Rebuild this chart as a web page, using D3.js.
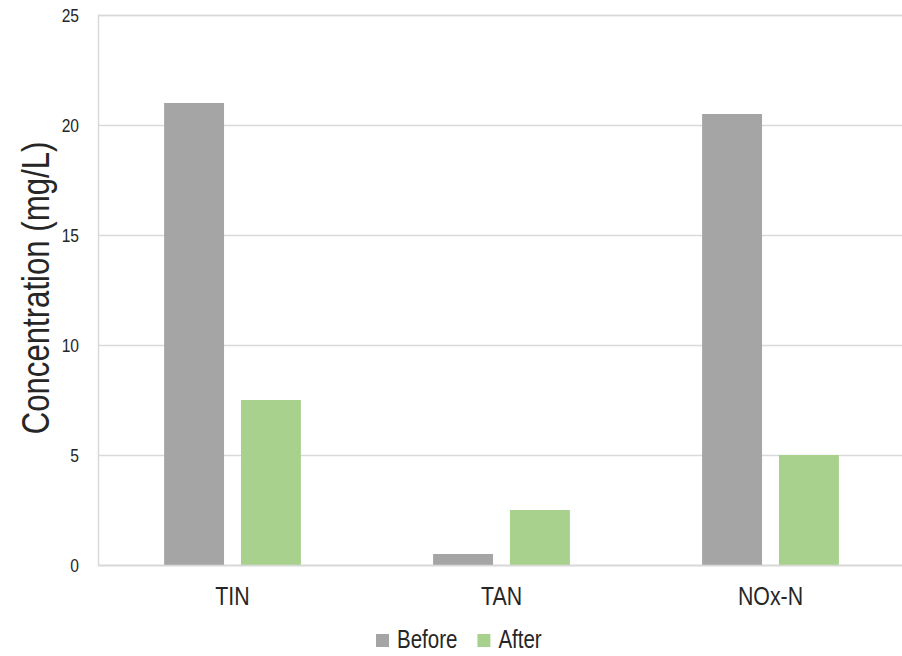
<!DOCTYPE html>
<html>
<head>
<meta charset="utf-8">
<script src="https://cdn.jsdelivr.net/npm/d3@7"></script>
<style>
  body { margin: 0; background: #fff; }
  text { font-family: "Liberation Sans Narrow", "Arial Narrow", "Liberation Sans", Arial, sans-serif; fill: #262626; }
</style>
</head>
<body>
<div class="chart"></div>
<script>
// Data
const categories = ['TIN', 'TAN', 'NOx-N'];
const seriesNames = ['Before', 'After'];
const beforeValues = [21, 0.5, 20.5];
const afterValues = [7.5, 2.5, 5];
const yTicks = [0, 5, 10, 15, 20, 25];
const colors = { Before: '#a5a5a5', After: '#a9d18e' };

const rows = categories.map((c, i) => ({ cat: c, Before: beforeValues[i], After: afterValues[i] }));

// no narrow font installed -> squeeze glyphs a bit
function narrow(sel) {
    sel.each(function () {
        const w = this.getComputedTextLength();
        d3.select(this).attr('textLength', w * 0.82).attr('lengthAdjust', 'spacingAndGlyphs');
    });
}

const svg_width = 902;
const svg_height = 656;
const margin = { top: 15, right: -3, bottom: 91, left: 98 };

const svg = d3.select('.chart').append('svg')
    .attr('width', svg_width).attr('height', svg_height);

const x0 = d3.scaleBand().domain(categories)
    .range([margin.left, svg_width - margin.right]);
const x1 = d3.scaleBand().domain(seriesNames)
    .range([0, x0.bandwidth()])
    .paddingInner(0.22).paddingOuter(0.86);
const y = d3.scaleLinear().domain([0, 25])
    .range([svg_height - margin.bottom, margin.top]);

// grid lines
const yAxis = d3.axisLeft(y).tickValues(yTicks)
    .tickSize(-(svg_width - margin.left - margin.right)).tickPadding(19);
const yAxisDraw = svg.append('g')
    .attr('transform', `translate(${margin.left},0)`)
    .call(yAxis);
yAxisDraw.select('.domain').attr('stroke', '#d9d9d9').attr('stroke-width', 1.5);
yAxisDraw.selectAll('.tick line').attr('stroke', '#d9d9d9').attr('stroke-width', 1.5);
yAxisDraw.selectAll('.tick text').style('font-size', '19px').attr('fill', '#262626')
    .call(narrow);

// bars
const groups = svg.append('g').selectAll('g').data(rows).join('g')
    .attr('transform', d => `translate(${x0(d.cat)},0)`);
groups.selectAll('rect')
    .data(d => seriesNames.map(s => ({ key: s, value: d[s] })))
    .join('rect')
    .attr('x', d => x1(d.key))
    .attr('y', d => y(d.value))
    .attr('width', x1.bandwidth())
    .attr('height', d => y(0) - y(d.value))
    .attr('fill', d => colors[d.key]);

// x axis
const xAxis = d3.axisBottom(x0).tickSize(0).tickPadding(22);
const xAxisDraw = svg.append('g')
    .attr('transform', `translate(0,${y(0)})`)
    .call(xAxis);
xAxisDraw.select('.domain').attr('stroke', '#d9d9d9').attr('stroke-width', 1.5);
xAxisDraw.selectAll('.tick text').style('font-size', '26px').attr('fill', '#262626')
    .call(narrow);

// y title
svg.append('text')
    .attr('transform', `translate(49,${(y(0) + y(25)) / 2 - 2}) rotate(-90)`)
    .attr('text-anchor', 'middle')
    .style('font-size', '38px')
    .text('Concentration (mg/L)')
    .call(narrow);

// legend
const legend = svg.append('g').attr('transform', 'translate(376,648)');
let lx = 0;
seriesNames.forEach(s => {
    legend.append('rect').attr('x', lx).attr('y', -14).attr('width', 13).attr('height', 13)
        .attr('fill', colors[s]);
    const t = legend.append('text').attr('x', lx + 21).attr('y', 0)
        .style('font-size', '25px').text(s)
        .call(narrow);
    lx += 21 + (+t.attr('textLength')) + 20;
});
</script>
</body>
</html>
